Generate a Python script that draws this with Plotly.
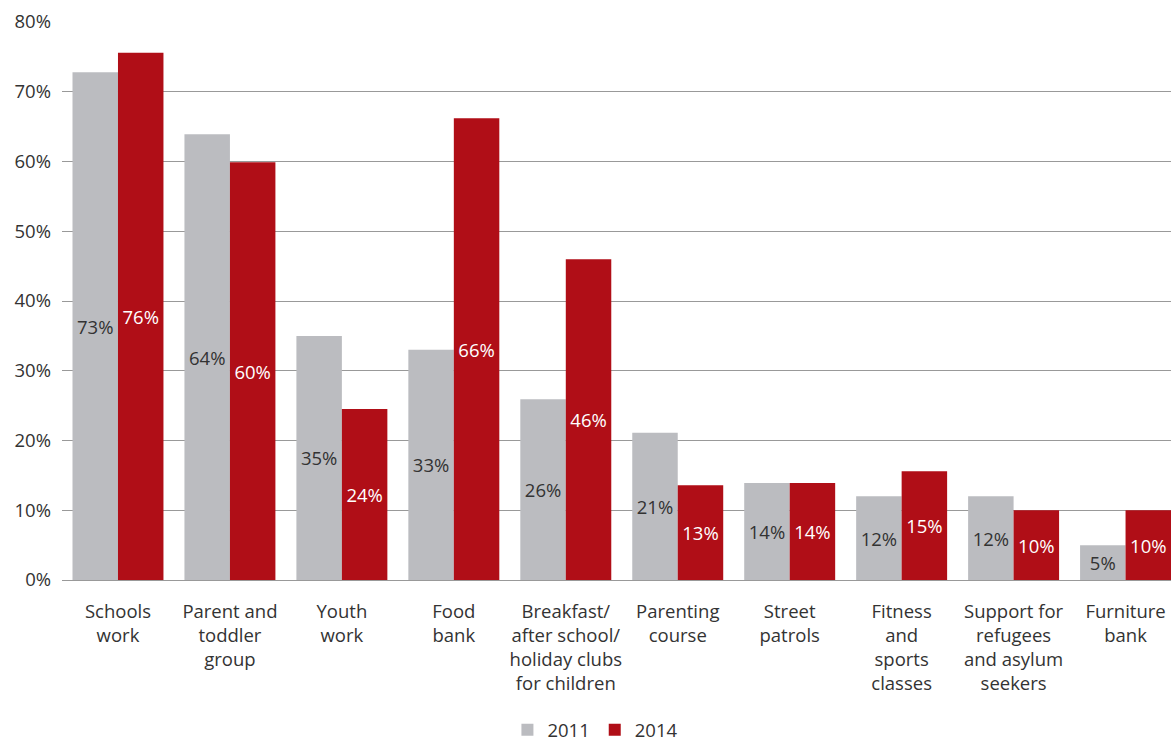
import plotly.graph_objects as go

categories = [
    "Schools<br>work",
    "Parent and<br>toddler<br>group",
    "Youth<br>work",
    "Food<br>bank",
    "Breakfast/<br>after school/<br>holiday clubs<br>for children",
    "Parenting<br>course",
    "Street<br>patrols",
    "Fitness<br>and<br>sports<br>classes",
    "Support for<br>refugees<br>and asylum<br>seekers",
    "Furniture<br>bank",
]
values_2011 = [72.8, 63.9, 35.0, 33.0, 25.9, 21.1, 13.9, 12.0, 12.0, 5.0]
values_2014 = [75.6, 59.9, 24.5, 66.2, 46.0, 13.6, 13.9, 15.6, 10.0, 10.0]
labels_2011 = ["73%", "64%", "35%", "33%", "26%", "21%", "14%", "12%", "12%", "5%"]
labels_2014 = ["76%", "60%", "24%", "66%", "46%", "13%", "14%", "15%", "10%", "10%"]
y_ticks = [0, 10, 20, 30, 40, 50, 60, 70, 80]
y_tick_text = ["0%", "10%", "20%", "30%", "40%", "50%", "60%", "70%", "80%"]

FONT = "Open Sans"
FS = 18.5
GRAY = "#BBBCC0"
RED = "#B00E17"

x = list(range(len(categories)))

fig = go.Figure()
fig.add_trace(go.Bar(
    x=x, y=values_2011, name="2011", marker=dict(color=GRAY, line=dict(width=0)),
    text=labels_2011, textposition="inside", insidetextanchor="middle",
    textfont=dict(family=FONT, size=FS, color="#333333"), cliponaxis=False,
))
fig.add_trace(go.Bar(
    x=x, y=values_2014, name="2014", marker=dict(color=RED, line=dict(width=0)),
    text=labels_2014, textposition="inside", insidetextanchor="middle",
    textfont=dict(family=FONT, size=FS, color="#FFFFFF"), cliponaxis=False,
))

fig.update_layout(
    width=1171, height=745,
    margin=dict(l=61.5, r=0, t=22, b=165, autoexpand=False),
    paper_bgcolor="white", plot_bgcolor="white",
    barmode="group", bargap=0.1875, bargroupgap=0,
    uniformtext=dict(minsize=FS, mode="show"),
    font=dict(family=FONT, size=FS, color="#333333"),
    xaxis=dict(
        tickmode="array", tickvals=x, ticktext=categories,
        range=[-0.5, 9.406], showgrid=False, zeroline=False, showline=False,
        ticks="", ticklabelstandoff=18, automargin=False,
        tickfont=dict(family=FONT, size=FS, color="#333333"),
    ),
    yaxis=dict(
        range=[0, 80], tickmode="array", tickvals=y_ticks, ticktext=y_tick_text,
        showgrid=True, gridcolor="#999999", gridwidth=1.3,
        zeroline=True, zerolinecolor="#999999", zerolinewidth=1.3,
        showline=False, ticks="", ticklabelstandoff=10, automargin=False,
        tickfont=dict(family=FONT, size=FS, color="#333333"),
    ),
    legend=dict(
        orientation="h", x=0.481, xanchor="center", y=-0.235, yanchor="top",
        font=dict(family=FONT, size=FS, color="#333333"),
        itemsizing="constant", traceorder="normal", itemwidth=30,
    ),
)

fig.write_html("out.html")
